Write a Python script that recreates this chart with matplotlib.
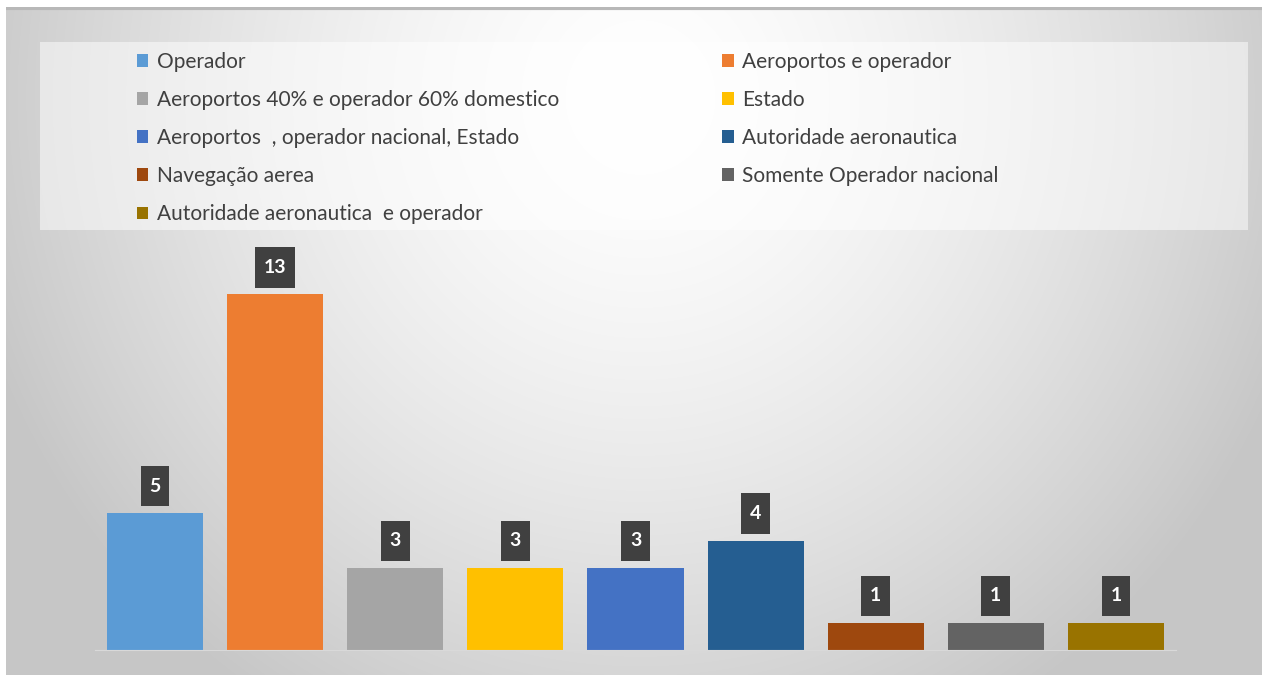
import numpy as np
import matplotlib
matplotlib.use('Agg')
import matplotlib.pyplot as plt
from matplotlib.patches import Rectangle, Patch
from matplotlib.path import Path

plt.rcParams['font.family'] = ['Lato', 'DejaVu Sans']

categorias = ['Operador', 'Aeroportos e operador', 'Aeroportos 40% e operador 60% domestico',
              'Estado', 'Aeroportos  , operador nacional, Estado', 'Autoridade aeronautica',
              'Navegação aerea', 'Somente Operador nacional', 'Autoridade aeronautica  e operador']
valores = [5, 13, 3, 3, 3, 4, 1, 1, 1]
cores = ['#5B9BD5', '#ED7D31', '#A5A5A5', '#FFC000', '#4472C4', '#255E91',
         '#9E480E', '#636363', '#997300']

W, H = 1262, 675
fig = plt.figure(figsize=(W / 100, H / 100), dpi=100)

# fundo com gradiente radial
bg = fig.add_axes([6 / W, 0, 1 - 6 / W, 1 - 7 / H])
yy, xx = np.mgrid[0:668, 0:1256]
d = np.sqrt(((xx - 634) / 640.0) ** 2 + ((yy - 90) / 660.0) ** 2)
g = np.clip(255 - 50 * d ** 1.5, 198, 255) / 255.0
bg.imshow(np.dstack([g, g, g]), aspect='auto', extent=[0, 1, 0, 1], origin='upper')
bg.axhline(0.998, color='#b8b8b8', lw=3)
bg.set_axis_off()

# caixa da legenda
fig.patches.append(Rectangle((40 / W, 1 - 230 / H), 1208 / W, 188 / H,
                             transform=fig.transFigure, facecolor='white',
                             alpha=0.5, edgecolor='none', zorder=1))

ax = fig.add_axes([95 / W, 25 / H, 1081 / W, 383 / H])
ax.set_facecolor('none')
x = np.arange(len(valores))
barras = ax.bar(x, valores, width=0.8, color=cores)
ax.set_xlim(-0.5, len(valores) - 0.5)
ax.set_ylim(0, 14)
for s in ['top', 'right', 'left']:
    ax.spines[s].set_visible(False)
ax.spines['bottom'].set_color('#d9d9d9')
ax.set_xticks([])
ax.set_yticks([])


def caixa(x0, y0, width, height, mutation_size):
    # retangulo mais alto que largo para os rotulos
    px, py = 0.45 * mutation_size, 0.6 * mutation_size
    x0, y0 = x0 - px, y0 - py
    x1, y1 = x0 + width + 2 * px, y0 + height + 2 * py
    return Path([(x0, y0), (x1, y0), (x1, y1), (x0, y1), (x0, y0)], closed=True)


ax.bar_label(barras, padding=13.3, color='white', fontsize=14, fontweight='bold',
             bbox=dict(boxstyle=caixa, fc='#404040', ec='none'))

handles = [Patch(facecolor=c) for c in cores]
ordem = [0, 2, 4, 6, 8, 1, 3, 5, 7]
fig.legend([handles[i] for i in ordem], [categorias[i] for i in ordem],
           ncol=2, frameon=False, loc='upper left', bbox_to_anchor=(118 / W, 1 - 33 / H),
           fontsize=15, labelcolor='#404040', handlelength=0.55, handleheight=0.55,
           handletextpad=0.4, labelspacing=0.87, columnspacing=7.85)

fig.savefig('out.png', dpi=100)
